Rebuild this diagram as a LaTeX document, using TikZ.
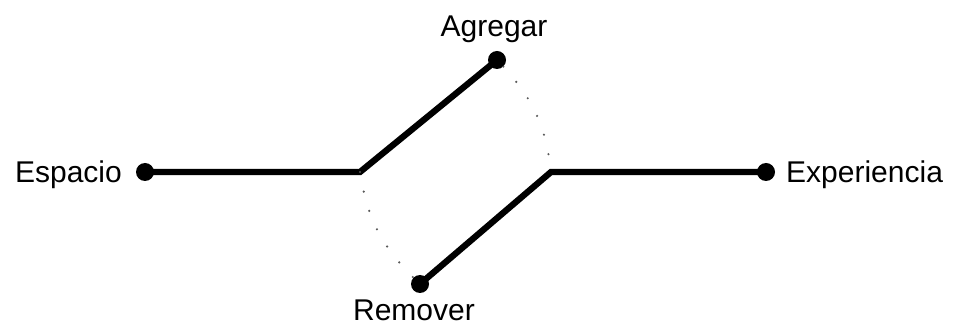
\documentclass[tikz,border=0pt]{standalone}
\usepackage{fontspec}
\setmainfont{Liberation Sans}
\begin{document}
\begin{tikzpicture}[x=1pt,y=-1pt,
  dotnode/.style={circle,fill=black,inner sep=0pt,minimum size=18pt},
  wire/.style={line width=6.3pt},
  sparse/.style={line width=2.4pt,line cap=round,dash pattern=on 0pt off 20pt,black!65},
  lbl/.style={font=\fontsize{30}{34}\selectfont,inner sep=0pt}]
\useasboundingbox (0,0) rectangle (955,328);
\node[dotnode] (esp) at (145,172) {};
\node[dotnode] (exp) at (766,172) {};
\node[dotnode] (agr) at (497,60) {};
\node[dotnode] (rem) at (420,284) {};
\coordinate (bl) at (360,172);
\coordinate (br) at (551,172);
\node[lbl,anchor=base east] (tesp) at (122,183) {Espacio};
\node[lbl,anchor=base west] (texp) at (786,183) {Experiencia};
\node[lbl,anchor=base] (tagr) at (494,37) {Agregar};
\node[lbl,anchor=base] (trem) at (414,321) {Remover};
\draw[wire] (esp.center) -- (bl) -- (agr.center);
\draw[wire] (rem.center) -- (br) -- (exp.center);
\draw[sparse] (bl) to[bend right=18] (rem);
\draw[sparse] (agr) to[bend left=18] (br);
\end{tikzpicture}
\end{document}
